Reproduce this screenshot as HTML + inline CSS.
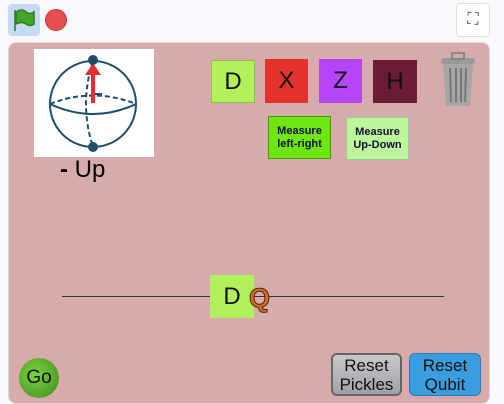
<!DOCTYPE html>
<html><head><meta charset="utf-8"><style>
body{margin:0;width:504px;height:404px;background:#f9f9fd;position:relative;overflow:hidden;font-family:"Liberation Sans",sans-serif}
.a{position:absolute;box-sizing:border-box}
.g{display:flex;align-items:center;justify-content:center;font-size:24px;color:#111}
.m{display:flex;align-items:center;justify-content:center;text-align:center;font-size:11px;line-height:13px;color:#113;font-weight:bold}
.r{display:flex;align-items:center;justify-content:center;text-align:center;font-size:17px;line-height:19px;border-radius:6px;color:#111}
</style></head><body>
<div class="a" style="left:8px;top:4px;width:32px;height:32px;background:#c6d9f7;border-radius:4px">
<svg width="32" height="32"><path d="M7 6 L7 27 M8 8 Q14 4 18 8 Q22 11 26 8 L26 20 Q22 23 18 20 Q14 17 8 20Z" fill="#45a52a" stroke="#2f7d1e" stroke-width="1.5"/></svg></div>
<div class="a" style="left:45px;top:9px;width:22px;height:22px;background:#e64f4f;border-radius:50%;border:1px solid #c33"></div>
<div class="a g" style="left:456px;top:3px;width:34px;height:34px;background:#fff;border:1px solid #ddd;border-radius:4px;font-size:16px;color:#555">⛶</div>
<div class="a" style="left:8px;top:42px;width:482px;height:362px;background:#d7aaab;border-radius:8px;border:1px solid #e2d6d8"></div>
<div class="a" style="left:34px;top:49px;width:120px;height:108px;background:#fff">
<svg width="120" height="108"><g fill="none" stroke="#1f4d6b" stroke-width="2"><circle cx="59" cy="55" r="43"/><path d="M16 55 Q59 75 102 55"/><path d="M16 55 Q59 38 102 55" stroke-dasharray="5 3"/><path d="M59 12 Q45 55 59 98" stroke-dasharray="5 3"/><path d="M59 45 L68 45"/></g><line x1="59" y1="54" x2="59" y2="20" stroke="#e03030" stroke-width="4"/><path d="M51 26 L59 14 L67 26Z" fill="#e03030"/><circle cx="59" cy="11" r="5" fill="#1f4d6b"/><circle cx="59" cy="98" r="5" fill="#1f4d6b"/></svg></div>
<div class="a" style="left:60px;top:156px;font-size:24px;color:#000"><b>-</b> Up</div>
<div class="a g" style="left:211px;top:60px;width:44px;height:43px;background:#b3f15c;border:1px solid #8bc34a">D</div>
<div class="a g" style="left:265px;top:59px;width:43px;height:44px;background:#e3322b">X</div>
<div class="a g" style="left:319px;top:59px;width:43px;height:44px;background:#b544fa">Z</div>
<div class="a g" style="left:373px;top:60px;width:44px;height:43px;background:#6b1b34">H</div>
<div class="a" style="left:437px;top:50px;width:42px;height:58px">
<svg width="42" height="58"><rect x="4" y="8" width="34" height="6" rx="3" fill="#999"/><rect x="15" y="3" width="12" height="6" fill="none" stroke="#888" stroke-width="2"/><path d="M6 14 L36 14 L33 56 L9 56Z" fill="#a6a6a6"/><g stroke="#777" stroke-width="2"><line x1="13" y1="18" x2="14" y2="52"/><line x1="19" y1="18" x2="19" y2="52"/><line x1="24" y1="18" x2="24" y2="52"/><line x1="29" y1="18" x2="28" y2="52"/></g></svg></div>
<div class="a m" style="left:268px;top:116px;width:63px;height:43px;background:#6fe612;border:1px solid #4a9a10">Measure<br>left-right</div>
<div class="a m" style="left:346px;top:117px;width:63px;height:43px;background:#bdf59b;border:1px solid #9c9">Measure<br>Up-Down</div>
<div class="a" style="left:62px;top:296px;width:382px;height:1px;background:#333"></div>
<div class="a g" style="left:210px;top:275px;width:44px;height:43px;background:#b3f15c">D</div>
<div class="a" style="left:249px;top:283px;font-size:27px;font-weight:bold;color:#d86a1e;-webkit-text-stroke:1px #4a2a10">Q</div>
<div class="a g" style="left:19px;top:358px;width:40px;height:40px;border-radius:50%;background:radial-gradient(circle at 40% 40%,#7fd040,#3c8c1c);font-size:19px">Go</div>
<div class="a r" style="left:331px;top:353px;width:71px;height:43px;background:linear-gradient(#c9c9cc,#a0a0a6);border:2px solid #666">Reset<br>Pickles</div>
<div class="a r" style="left:409px;top:353px;width:72px;height:43px;background:#3a9de0;border:1px solid #2a7bbf">Reset<br>Qubit</div>
</body></html>
